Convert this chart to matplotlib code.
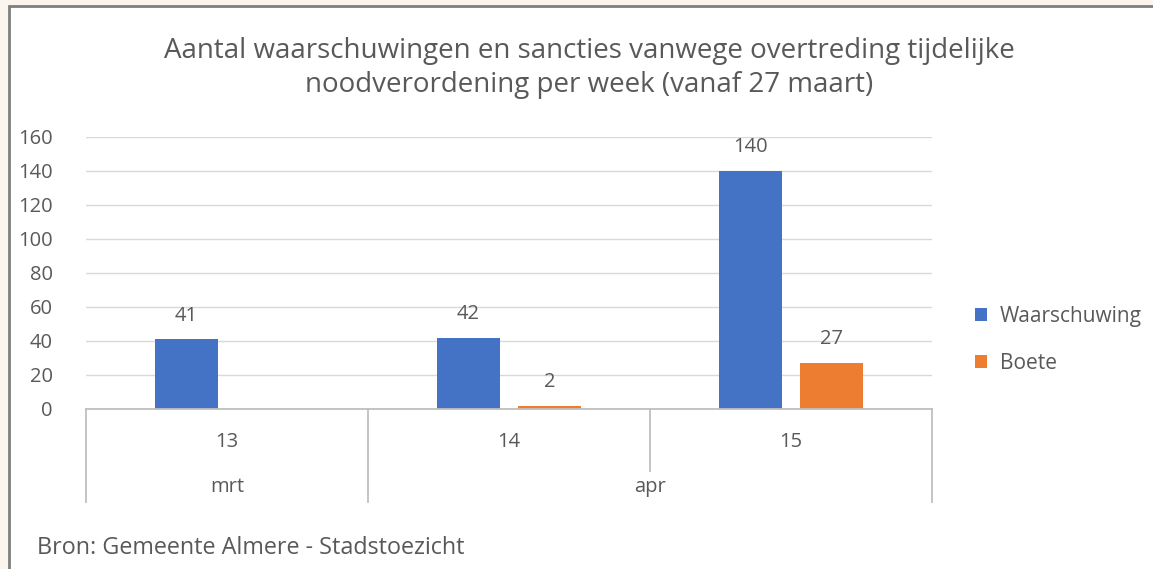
import matplotlib
matplotlib.use("Agg")
import matplotlib.pyplot as plt
from matplotlib.patches import Rectangle
import numpy as np

plt.rcParams['font.family'] = ['Open Sans', 'DejaVu Sans']

weeks = ["13", "14", "15"]
months = ["mrt", "apr"]
month_spans = [(0, 0), (1, 2)]
waarschuwing = [41, 42, 140]
boete = [None, 2, 27]
series_names = ["Waarschuwing", "Boete"]
colors = ["#4472C4", "#ED7D31"]
title = "Aantal waarschuwingen en sancties vanwege overtreding tijdelijke\nnoodverordening per week (vanaf 27 maart)"
source = "Bron: Gemeente Almere - Stadstoezicht"
yticks = [0, 20, 40, 60, 80, 100, 120, 140, 160]

W, H = 1153, 569
fig = plt.figure(figsize=(W / 100, H / 100), dpi=100, facecolor="#FCF5EE")
fig.patches.append(Rectangle((8.5 / W, -0.1), 1.2, 1.1 - 5.5 / H, transform=fig.transFigure,
                             facecolor="white", edgecolor="#7F7F7F", linewidth=2, zorder=-10))

left, right, bottom, top = 86, 932, 409, 137
ax = fig.add_axes([left / W, 1 - bottom / H, (right - left) / W, (bottom - top) / H])
ax.set_facecolor("none")
txt = "#595959"
grid = "#D9D9D9"
axc = "#BFBFBF"
fs = 14.5

x = np.arange(len(weeks))
bw = 0.223
off = 0.144
b1 = ax.bar(x - off, waarschuwing, bw, color=colors[0], label=series_names[0], zorder=3)
bvals = [v if v is not None else 0 for v in boete]
b2 = ax.bar(x + off, bvals, bw, color=colors[1], label=series_names[1], zorder=3)
for xi, v in zip(x, waarschuwing):
    ax.text(xi - off, v + 8, str(v), ha="center", va="bottom", fontsize=fs, color=txt)
for xi, v in zip(x, boete):
    if v is not None:
        ax.text(xi + off, v + 8, str(v), ha="center", va="bottom", fontsize=fs, color=txt)

ax.set_xlim(-0.5, len(weeks) - 0.5)
ax.set_ylim(0, 160)
ax.set_yticks(yticks)
ax.set_yticklabels([str(t) for t in yticks], fontsize=fs, color=txt)
ax.tick_params(axis="y", length=0, pad=24)
ax.yaxis.grid(True, color=grid, linewidth=1)
ax.set_axisbelow(True)
ax.set_xticks([])
for s in ["left", "right", "top"]:
    ax.spines[s].set_visible(False)
ax.spines["bottom"].set_color(axc)
ax.spines["bottom"].set_linewidth(1.3)
ax.spines["bottom"].set_zorder(4)

ph = bottom - top
y_full = -(502 - bottom) / ph
y_half = -(471 - bottom) / ph
y_week = -(442 - bottom) / ph
y_month = -(487 - bottom) / ph
trans = ax.get_xaxis_transform()
bounds_full = [-0.5] + [s[1] + 0.5 for s in month_spans]
for b in bounds_full:
    ax.plot([b, b], [0, y_full], color=axc, lw=1.3, transform=trans, clip_on=False)
for i in range(len(weeks) - 1):
    bb = i + 0.5
    if bb not in bounds_full:
        ax.plot([bb, bb], [0, y_half], color=axc, lw=1.3, transform=trans, clip_on=False)
for xi, w in zip(x, weeks):
    ax.text(xi, y_week, w, ha="center", va="center", fontsize=fs, color=txt, transform=trans)
for m, (a, b) in zip(months, month_spans):
    ax.text((a + b) / 2, y_month, m, ha="center", va="center", fontsize=fs, color=txt, transform=trans)

fig.text(589 / W, 1 - 68 / H, title, ha="center", va="center", fontsize=20, color=txt, linespacing=1.3)
fig.text(37 / W, 1 - 548 / H, source, ha="left", va="center", fontsize=16.8, color=txt)

leg = fig.legend(handles=[b1, b2], labels=series_names, loc="center left",
                 bbox_to_anchor=(956 / W, 1 - 340 / H), frameon=False, fontsize=15,
                 labelcolor=txt, handlelength=0.6, handleheight=0.6, handletextpad=0.6,
                 labelspacing=1.25)

fig.savefig("out.png", dpi=100, facecolor=fig.get_facecolor())
